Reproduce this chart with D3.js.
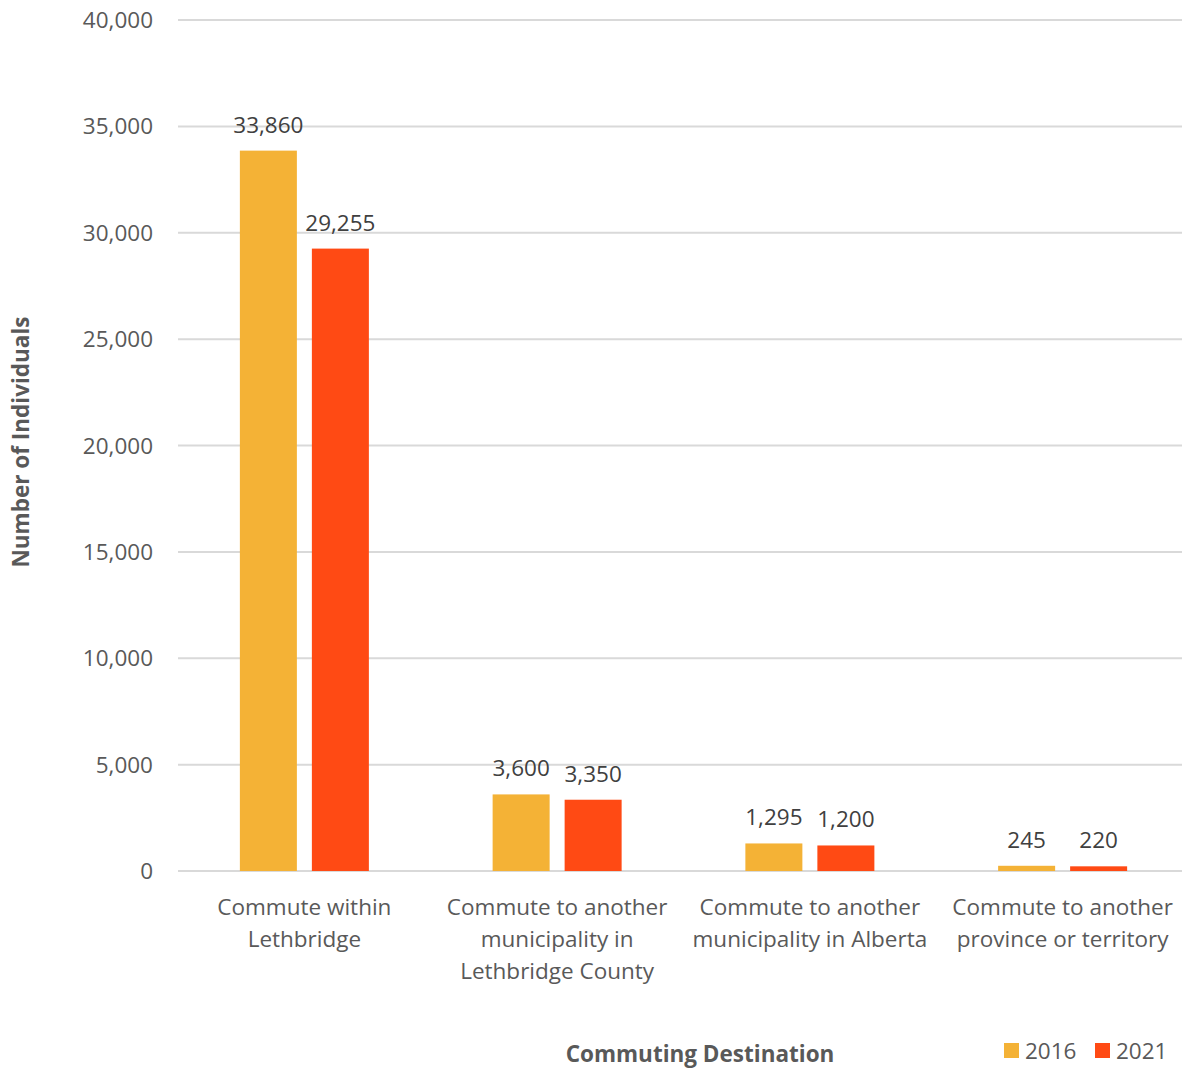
<!DOCTYPE html>
<html><head><meta charset="utf-8">
<script src="https://cdn.jsdelivr.net/npm/d3@7/dist/d3.min.js"></script>
<style>
body{margin:0;background:#fff;}
text{font-family:"Open Sans","Noto Sans",sans-serif;}
</style></head>
<body><svg id="c" width="1182" height="1069"></svg>
<script>
const categories = [
  ["Commute within","Lethbridge"],
  ["Commute to another","municipality in","Lethbridge County"],
  ["Commute to another","municipality in Alberta"],
  ["Commute to another","province or territory"]
];
const seriesNames = ["2016","2021"];
const values2016 = [33860, 3600, 1295, 245];
const values2021 = [29255, 3350, 1200, 220];
const yTicks = [0,5000,10000,15000,20000,25000,30000,35000,40000];
const colors = ["#F4B236","#FF4A14"];

(function(){
const svg = d3.select("#c");
const pL = 178, pR = 1182, pT = 20, pB = 871;
const x = d3.scaleBand().domain(d3.range(categories.length)).range([pL,1189]).padding(0);
const y = d3.scaleLinear().domain([0,40000]).range([pB,pT]);
const fmt = d3.format(",");
const fs = 22.5;

svg.append("g").selectAll("line").data(yTicks).join("line")
  .attr("x1",pL).attr("x2",pR)
  .attr("y1",d=>y(d)).attr("y2",d=>y(d))
  .attr("stroke","#d9d9d9").attr("stroke-width",2);

svg.append("g").selectAll("text").data(yTicks).join("text")
  .attr("x",153).attr("y",d=>y(d)+8)
  .attr("text-anchor","end").attr("font-size",fs).attr("fill","#595959")
  .text(d=>fmt(d));

const bw = 57, gap = 15;
const series = [values2016, values2021];
series.forEach((vals,si)=>{
  const g = svg.append("g");
  vals.forEach((v,i)=>{
    const cx = x(i) + x.bandwidth()/2;
    const x0 = cx - (2*bw+gap)/2 + si*(bw+gap);
    g.append("rect").attr("x",x0).attr("width",bw)
      .attr("y",y(v)).attr("height",y(0)-y(v)).attr("fill",colors[si]);
    g.append("text").attr("x",x0+bw/2).attr("y",y(v)-18)
      .attr("text-anchor","middle").attr("font-size",fs).attr("fill","#404040")
      .text(fmt(v));
  });
});

categories.forEach((lines,i)=>{
  const cx = x(i)+x.bandwidth()/2;
  const t = svg.append("text").attr("text-anchor","middle").attr("font-size",fs).attr("fill","#595959");
  lines.forEach((l,k)=>{
    t.append("tspan").attr("x",cx).attr("y",915+k*32).text(l);
  });
});

svg.append("text").attr("x",700).attr("y",1062).attr("text-anchor","middle")
  .attr("font-size",fs).attr("font-weight","bold").attr("fill","#595959").text("Commuting Destination");
svg.append("text").attr("transform","translate(29,442) rotate(-90)").attr("text-anchor","middle")
  .attr("font-size",fs).attr("font-weight","bold").attr("fill","#595959").text("Number of Individuals");

const lx = [1004,1095];
seriesNames.forEach((s,i)=>{
  svg.append("rect").attr("x",lx[i]).attr("y",1043).attr("width",15).attr("height",15).attr("fill",colors[i]);
  svg.append("text").attr("x",lx[i]+21).attr("y",1059).attr("font-size",fs).attr("fill","#595959").text(s);
});
})();
</script></body></html>
